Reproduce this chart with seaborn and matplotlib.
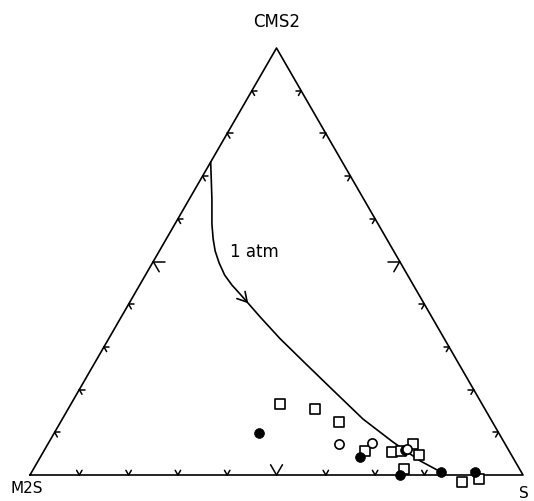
import numpy as np
import pandas as pd
import seaborn as sns
import matplotlib
matplotlib.use("Agg")
import matplotlib.pyplot as plt

sns.set_theme(style="white")
plt.rcParams['font.family'] = ['DejaVu Sans']
plt.rcParams['text.color'] = 'black'

# ---- data (compositions in %, CMS2 and S; M2S = 100 - CMS2 - S) ----
corner_labels = ["M2S", "S", "CMS2"]
tick_fracs = [10, 20, 30, 40, 50, 60, 70, 80, 90]
major_tick = 50

filled_cms2 = [9.8, 4.2, 0.0, 0.7, 0.7, 5.9]
filled_s = [41.5, 64.8, 75.1, 83.0, 89.9, 73.1]

open_cms2 = [7.3, 7.5, 6.1]
open_s = [59.0, 65.6, 73.4]

square_cms2 = [16.6, 15.5, 12.4, 5.6, 5.4, 5.6, 7.3, 4.7, 1.4, -1.6, -0.9]
square_s = [42.4, 50.1, 56.5, 65.1, 70.7, 72.4, 74.1, 76.6, 75.2, 88.4, 91.6]

curve_cms2 = [73.3, 64.6, 58.8, 55.3, 52.5, 49.7, 46.8, 44.5, 42.4, 40.5,
              37.0, 31.9, 26.2, 20.6, 13.1, 7.7, 3.3, 0.7]
curve_s = [0.0, 4.6, 7.5, 9.5, 11.3, 13.5, 16.1, 18.7, 21.4, 23.8,
           28.2, 34.8, 42.7, 50.5, 61.0, 69.8, 77.5, 83.0]
curve_label = "1 atm"
curve_label_cms2 = 52.5
curve_label_s = 19.2
curve_arrow_index = 9


def to_xy(cms2, s):
    c = np.asarray(cms2, float) / 100.0
    s = np.asarray(s, float) / 100.0
    return s + c / 2.0, c * np.sqrt(3) / 2.0


fig = plt.figure(figsize=(5.34, 5.02), dpi=100)
ax = fig.add_axes([0, 0, 1, 1])
ax.set_xlim(-30 / 493, 504 / 493)
ax.set_ylim(-26 / 493, 476 / 493)
ax.axis("off")

# triangle frame
vx, vy = to_xy([0, 0, 100, 0], [0, 100, 0, 0])
sns.lineplot(x=vx, y=vy, sort=False, estimator=None, color="black",
             linewidth=1.2, ax=ax, legend=False)

# edge ticks: arrowheads pointing outward
edges = [((0, 0), (0, 100)), ((0, 100), (100, 0)), ((100, 0), (0, 0))]  # (cms2,s) pairs
cx, cy = to_xy([100 / 3], [100 / 3])
for (a, b) in edges:
    ax0, ay0 = to_xy([a[0]], [a[1]])
    bx0, by0 = to_xy([b[0]], [b[1]])
    ax0, ay0, bx0, by0 = ax0[0], ay0[0], bx0[0], by0[0]
    ex, ey = bx0 - ax0, by0 - ay0
    nx, ny = -ey, ex
    nrm = np.hypot(nx, ny)
    nx, ny = nx / nrm, ny / nrm
    mx, my = (ax0 + bx0) / 2, (ay0 + by0) / 2
    if (cx[0] - mx) * nx + (cy[0] - my) * ny < 0:
        nx, ny = -nx, -ny
    ang = np.arctan2(ny, nx)
    for f in tick_fracs:
        px, py = ax0 + ex * f / 100, ay0 + ey * f / 100
        L = 0.024 if f == major_tick else 0.011
        for d in (np.pi / 6, -np.pi / 6):
            ax.plot([px, px + L * np.cos(ang + d)], [py, py + L * np.sin(ang + d)],
                    color="black", lw=1.1, solid_capstyle="round")

# boundary curve
kx, ky = to_xy(curve_cms2, curve_s)
sns.lineplot(x=kx, y=ky, sort=False, estimator=None, color="black",
             linewidth=1.2, ax=ax, legend=False)
i = curve_arrow_index
dx, dy = kx[i + 1] - kx[i - 1], ky[i + 1] - ky[i - 1]
back = np.arctan2(-dy, -dx)
for d in (np.pi / 6, -np.pi / 6):
    ax.plot([kx[i], kx[i] + 0.022 * np.cos(back + d)],
            [ky[i], ky[i] + 0.022 * np.sin(back + d)], color="black", lw=1.2)
tx, ty = to_xy([curve_label_cms2], [curve_label_s])
ax.text(tx[0], ty[0], curve_label, fontsize=12, ha="center", va="center",
        color="black")

# data points
fx, fy = to_xy(filled_cms2, filled_s)
ox, oy = to_xy(open_cms2, open_s)
qx, qy = to_xy(square_cms2, square_s)
sns.scatterplot(x=qx, y=qy, marker="s", s=55, facecolor="white",
                edgecolor="black", linewidth=1.2, ax=ax, zorder=3, legend=False)
sns.scatterplot(x=fx, y=fy, marker="o", s=50, color="black",
                edgecolor="black", linewidth=0.5, ax=ax, zorder=4, legend=False)
sns.scatterplot(x=ox, y=oy, marker="o", s=44, facecolor="white",
                edgecolor="black", linewidth=1.2, ax=ax, zorder=5, legend=False)

# corner labels
lx, ly = to_xy([0, 0, 100], [0, 100, 0])
ax.text(lx[0] - 0.006, ly[0] - 0.026, corner_labels[0], fontsize=11,
        ha="center", va="center", color="black")
ax.text(lx[1] + 0.002, ly[1] - 0.036, corner_labels[1], fontsize=11,
        ha="center", va="center", color="black")
ax.text(lx[2], ly[2] + 0.055, corner_labels[2], fontsize=12,
        ha="center", va="center", color="black")

fig.savefig("out.png", dpi=100)
